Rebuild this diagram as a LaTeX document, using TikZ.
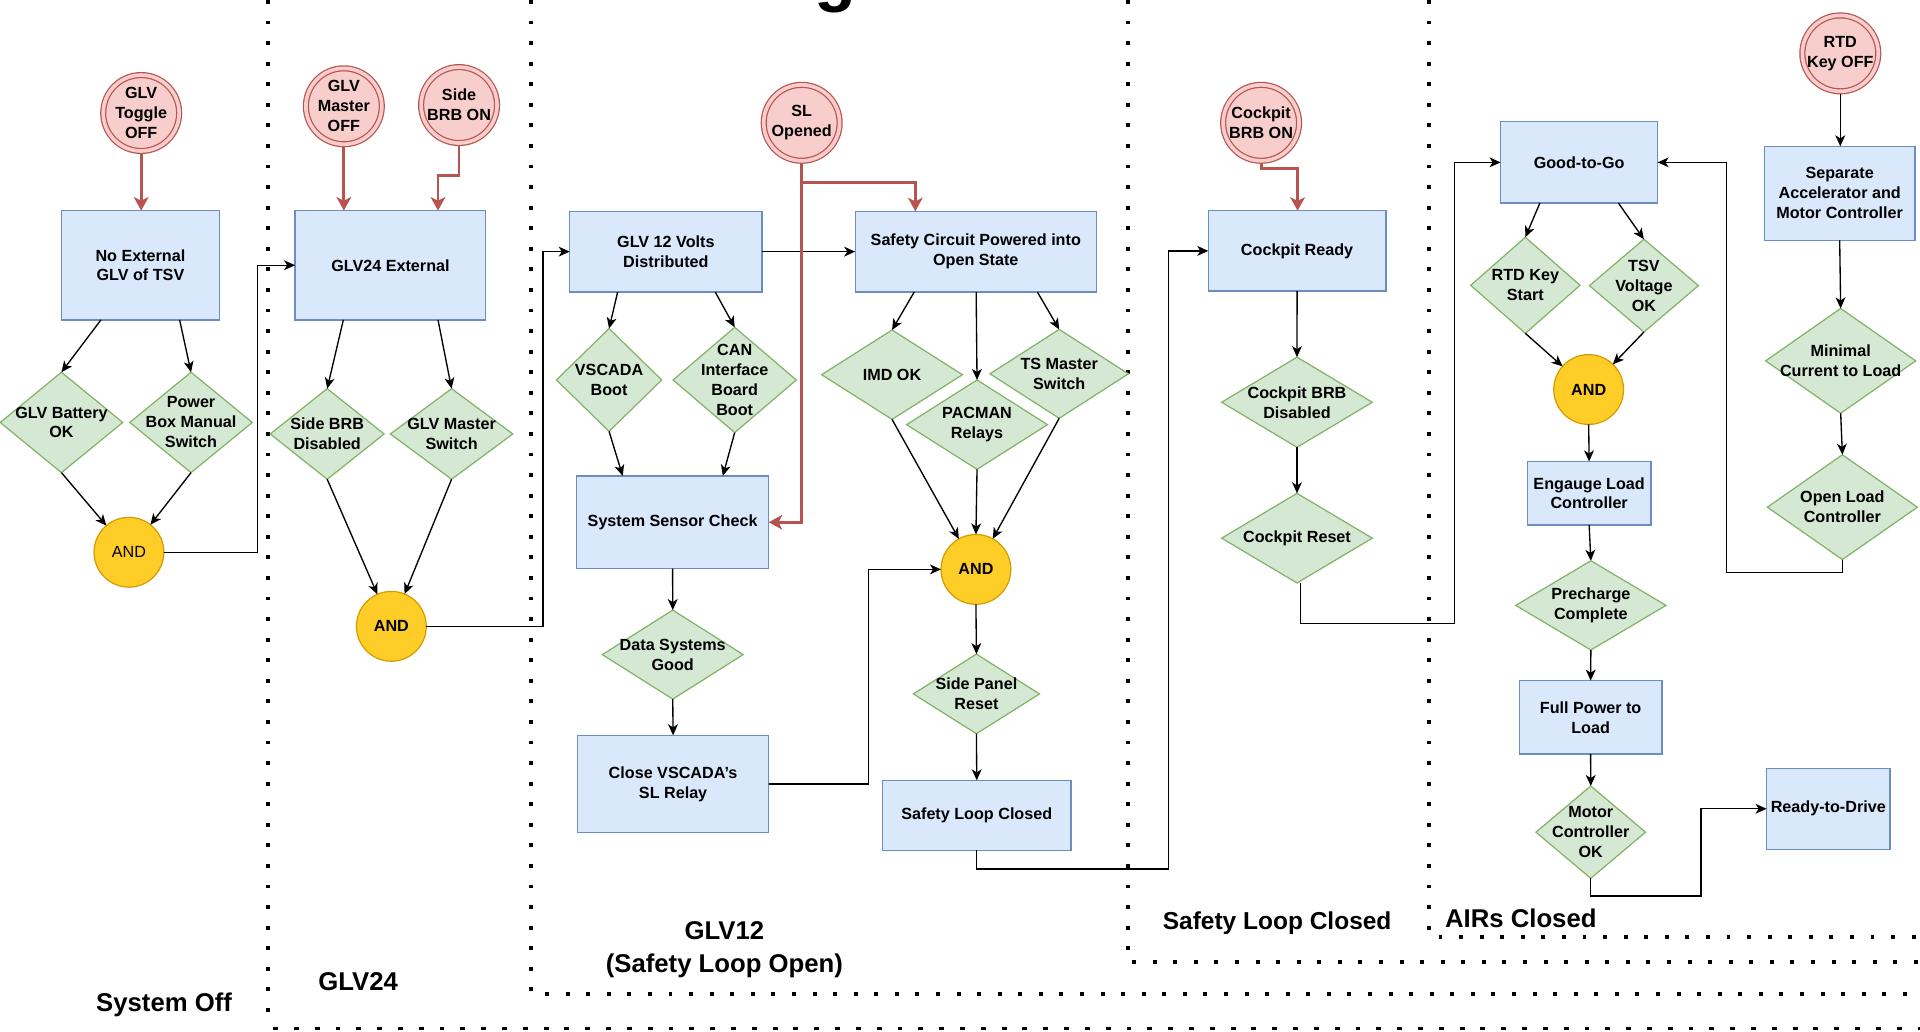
\documentclass[tikz,border=0pt]{standalone}
\usepackage{fontspec}
\setmainfont{Liberation Sans}
\usetikzlibrary{arrows.meta,shapes.geometric,calc}
\definecolor{blueF}{HTML}{DAE8FC}
\definecolor{blueS}{HTML}{6C8EBF}
\definecolor{greenF}{HTML}{D5E8D4}
\definecolor{greenS}{HTML}{82B366}
\definecolor{redF}{HTML}{F8CECC}
\definecolor{redS}{HTML}{B85450}
\definecolor{yelF}{HTML}{FFCD28}
\definecolor{yelS}{HTML}{D79B00}
\tikzset{
  txt/.style={font=\fontsize{13.2}{16.3}\selectfont\bfseries, align=center, inner sep=0pt, outer sep=0pt},
  sec/.style={font=\fontsize{21}{26.3}\selectfont\bfseries, align=center, inner sep=0pt},
  box/.style={txt, rectangle, draw=blueS, fill=blueF, line width=1pt},
  dia/.style={diamond, draw=greenS, fill=greenF, line width=1pt, inner sep=0pt, outer sep=0pt},
  dcirc/.style={circle, draw=redS, fill=redF, line width=1pt, double=redF, double distance=3pt, minimum size=62pt, inner sep=0pt, outer sep=2.5pt},
  gate/.style={txt, circle, draw=yelS, fill=yelF, line width=1pt, minimum size=57pt},
  arr/.style={draw=black, line width=1.1pt, -{Stealth[length=9pt,width=8pt,inset=2.5pt]}},
  redarr/.style={draw=redS, line width=2.3pt, -{Stealth[length=11pt,width=12pt,inset=3pt]}},
  bound/.style={line width=3.2pt, dash pattern=on 3.2pt off 13.6pt},
  boundthin/.style={line width=2pt, dash pattern=on 4pt off 13pt},
}
\newcommand\DiaNode[6]{\node[dia,minimum width=#4pt,minimum height=#5pt] (#1) at (#2,#3) {}; \node[txt] (#1t) at (#1.center) {#6};}
\newcommand\CircNode[4]{\node[dcirc] (#1) at (#2,#3) {}; \node[txt] (#1t) at (#1.center) {#4};}
\begin{document}
\begin{tikzpicture}[x=1pt,y=-1pt]
\useasboundingbox (0,0) rectangle (1568,842);
\clip (0,0) rectangle (1568,842);
\fill[white] (0,0) rectangle (1568,842);
% cropped title glyph
\node[font=\fontsize{56}{60}\selectfont\bfseries, anchor=base, inner sep=0pt] (ttl) at (682,-1.5) {g};
% section boundaries
\draw[bound] (219,0) -- (219,838);
\draw[boundthin] (223,840) -- (1568,840);
\draw[bound] (434,0) -- (434,812) -- (1568,812);
\draw[bound] (921,0) -- (921,786) -- (1568,786);
\draw[bound] (1167,0) -- (1167,765) -- (1568,765);
% section labels
\node[sec] (s1) at (134,820.5) {System Off};
\node[sec] (s2) at (292.5,802) {GLV24};
\node[sec] (s3) at (591.6,775.5) {GLV12\\(Safety Loop Open)};
\node[sec, font=\fontsize{20}{24}\selectfont\bfseries] (s4) at (1043,754) {Safety Loop Closed};
\node[sec] (s5) at (1242,750) {AIRs Closed};

% ---------- System Off ----------
\CircNode{c1}{115.3}{92.3}{GLV\\Toggle\\OFF}
\node[box, minimum width=129.4pt, minimum height=89.3pt] (b1) at (114.7,216.6) {No External\\GLV of TSV};
\DiaNode{d1}{50.2}{345}{100}{82}{GLV Battery\\OK}
\DiaNode{d2}{156}{345}{100}{82}{Power\\Box Manual\\Switch}
\node[gate, font=\fontsize{13.2}{16}\selectfont] (a1) at (105.3,451) {AND};

% ---------- GLV24 ----------
\CircNode{c2}{280.8}{86.8}{GLV\\Master\\OFF}
\CircNode{c3}{374.9}{85.8}{Side\\BRB ON}
\node[box, minimum width=155.8pt, minimum height=89.3pt] (b2) at (318.9,216.6) {GLV24 External};
\DiaNode{d3}{267.2}{354.4}{93}{74}{Side BRB\\Disabled}
\DiaNode{d4}{368.8}{354.4}{100}{74}{GLV Master\\Switch}
\node[gate] (a2) at (319.6,511.5) {AND};

% ---------- GLV12 ----------
\CircNode{c4}{654.7}{100.3}{SL\\Opened}
\node[box, minimum width=157pt, minimum height=66pt] (b3) at (543.8,205.5) {GLV 12 Volts\\Distributed};
\node[box, minimum width=197pt, minimum height=66pt] (b4) at (796.9,205.5) {Safety Circuit Powered into\\Open State};
\DiaNode{d5}{497.4}{310.3}{86}{84}{VSCADA\\Boot}
\DiaNode{d6}{600}{310.3}{100.6}{86}{CAN\\Interface\\Board\\Boot}
\node[box, minimum width=157pt, minimum height=75.7pt] (b5) at (549.3,426.5) {System Sensor Check};
\DiaNode{d7}{549.4}{534.6}{115}{72.7}{Data Systems\\Good}
\node[box, minimum width=156.3pt, minimum height=79.4pt] (b6) at (549.7,640.2) {Close VSCADA's\\SL Relay};
\DiaNode{d8}{728.5}{306}{115}{73}{IMD OK}
\DiaNode{d9}{797.9}{346.8}{115}{73}{PACMAN\\Relays}
\DiaNode{d10}{865}{305.3}{113}{72.6}{TS Master\\Switch}
\node[gate] (a3) at (797,465) {AND};
\DiaNode{d11}{797.4}{566.7}{103}{65}{Side Panel\\Reset}
\node[box, minimum width=154pt, minimum height=57pt] (b7) at (797.7,665.8) {Safety Loop Closed};

% ---------- Safety Loop Closed ----------
\CircNode{c5}{1029.9}{100.3}{Cockpit\\BRB ON}
\node[box, minimum width=145pt, minimum height=65.6pt] (b8) at (1059.3,204.9) {Cockpit Ready};
\DiaNode{d12}{1059.2}{328.5}{123}{73.6}{Cockpit BRB\\Disabled}
\DiaNode{d13}{1059.2}{439.5}{123}{73.2}{Cockpit Reset}

% ---------- AIRs Closed ----------
\node[box, minimum width=128.2pt, minimum height=66.2pt] (b9) at (1289.6,132.6) {Good-to-Go};
\DiaNode{d14}{1245.7}{233}{89.3}{78.5}{RTD Key\\Start}
\DiaNode{d15}{1342.5}{233.3}{89}{75.8}{TSV\\Voltage\\OK}
\node[gate] (a4) at (1297.4,318.1) {AND};
\node[box, minimum width=101pt, minimum height=51.9pt] (b10) at (1297.8,402.8) {Engauge Load\\Controller};
\DiaNode{d16}{1299.2}{494.4}{122.7}{72.9}{Precharge\\Complete}
\node[box, minimum width=116.5pt, minimum height=59.9pt] (b11) at (1299,585.8) {Full Power to\\Load};
\DiaNode{d17}{1299.1}{679.6}{89.5}{75.4}{Motor\\Controller\\OK}
\node[box, minimum width=100.8pt, minimum height=66.1pt] (b12) at (1493.1,660.5) {Ready-to-Drive};
\CircNode{c6}{1502.9}{43.6}{RTD\\Key OFF}
\node[box, minimum width=123pt, minimum height=76.8pt] (b13) at (1502.4,157.9) {Separate\\Accelerator and\\Motor Controller};
\DiaNode{d18}{1503.2}{294.7}{122.5}{85.6}{Minimal\\Current to Load}
\DiaNode{d19}{1504.6}{414.2}{122.5}{85.6}{Open Load\\Controller}

% ---------- bend points ----------
\coordinate (k1) at (210.4,216.6);
\coordinate (k2) at (357.7,143.5);
\coordinate (k3) at (443.4,205.5);
\coordinate (k4) at (747.5,148.9);
\coordinate (k6) at (709.4,465);
\coordinate (k7) at (954.1,709.8);
\coordinate (k8) at (1059.7,137.8);
\coordinate (k9) at (1187.7,509.3);
\coordinate (k10) at (1389.1,731.7);
\coordinate (k11) at (1410.1,467.3);

% ---------- connectors ----------
% System Off
\draw[redarr] (c1.south) -- (c1.south |- b1.north);
\draw[arr] ([xshift=-32.3pt]b1.south) -- (d1.north);
\draw[arr] ([xshift=32pt]b1.south) -- (d2.north);
\draw[arr] (d1.south) -- (a1);
\draw[arr] (d2.south) -- (a1);
\draw[arr] (a1.east) -| (k1) -- (b2.west);
% GLV24
\draw[redarr] (c2.south) -- (c2.south |- b2.north);
\draw[redarr] (c3.south) |- (k2) -- (k2 |- b2.north);
\draw[arr] ([xshift=-38.5pt]b2.south) -- (d3.north);
\draw[arr] ([xshift=38.8pt]b2.south) -- (d4.north);
\draw[arr] (d3.south) -- (a2);
\draw[arr] (d4.south) -- (a2);
\draw[arr] (a2.east) -| (k3) -- (b3.west);
% GLV12
\draw[arr] (b3.east) -- (b3.east -| b4.west);
\draw[redarr] (c4.south) |- (k4) -- (k4 |- b4.north);
\draw[redarr] (c4.south) |- (b5.east);
\draw[arr] ([xshift=-39.4pt]b3.south) -- (d5.north);
\draw[arr] ([xshift=40.3pt]b3.south) -- (d6.north);
\draw[arr] (d5.south) -- ([xshift=-40.8pt]b5.north);
\draw[arr] (d6.south) -- ([xshift=41pt]b5.north);
\draw[arr] (b5.south) -- (d7.north);
\draw[arr] (d7.south) -- (b6.north);
\draw[arr] (b6.east) -| (k6) -- (a3.west);
\draw[arr] ([xshift=-50.3pt]b4.south) -- (d8.north);
\draw[arr] ([xshift=0.3pt]b4.south) -- (d9.north);
\draw[arr] ([xshift=50.3pt]b4.south) -- (d10.north);
\draw[arr] (d8.south) -- (a3);
\draw[arr] (d9.south) -- (a3.north);
\draw[arr] (d10.south) -- (a3);
\draw[arr] (a3.south) -- (d11.north);
\draw[arr] (d11.south) -- (b7.north);
\draw[arr] (b7.south) |- (k7) |- (b8.west);
% Safety Loop Closed
\draw[redarr] (c5.south) |- (k8) -- (k8 |- b8.north);
\draw[arr] (b8.south) -- (d12.north);
\draw[arr] (d12.south) -- (d13.north);
\draw[arr] ([xshift=3pt]d13.south) |- (k9) |- (b9.west);
% AIRs Closed
\draw[arr] ([xshift=-32pt]b9.south) -- (d14.north);
\draw[arr] ([xshift=32pt]b9.south) -- (d15.north);
\draw[arr] (d14.south) -- (a4);
\draw[arr] (d15.south) -- (a4);
\draw[arr] (a4.south) -- (b10.north);
\draw[arr] (b10.south) -- (d16.north);
\draw[arr] (d16.south) -- (b11.north);
\draw[arr] (b11.south) -- (d17.north);
\draw[arr] (d17.south) |- (k10) |- (b12.west);
\draw[arr] (c6.south) -- (c6.south |- b13.north);
\draw[arr] (b13.south) -- (d18.north);
\draw[arr] (d18.south) -- (d19.north);
\draw[arr] (d19.south) |- (k11) |- (b9.east);
\end{tikzpicture}
\end{document}
